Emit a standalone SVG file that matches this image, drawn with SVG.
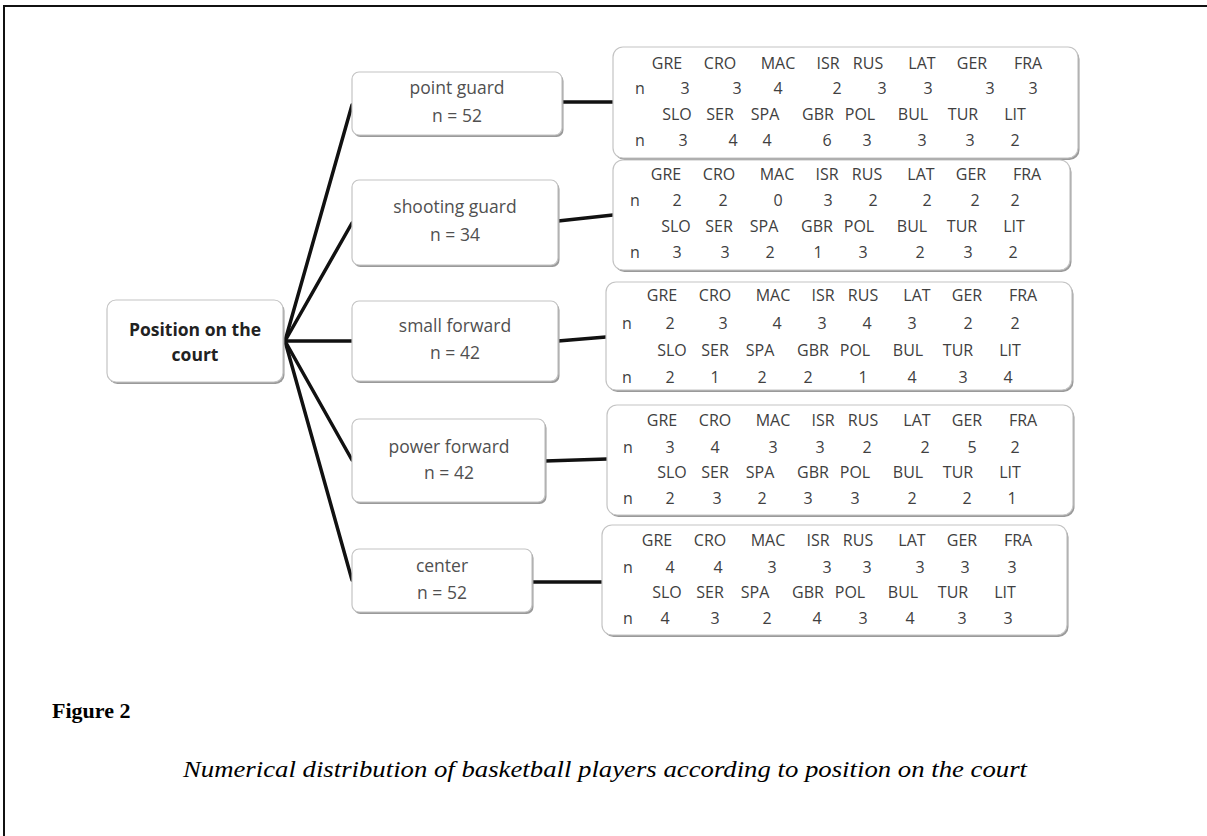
<svg xmlns="http://www.w3.org/2000/svg" width="1207" height="836" viewBox="0 0 1207 836">
<style>
.frame{fill:none;stroke:#111;stroke-width:2}
.shadow{fill:#9a9a9a}
.box{fill:#fff;stroke:#c4c4c4;stroke-width:1.2}
.conn{fill:none;stroke:#111;stroke-width:3.5;stroke-linecap:round}
.lbl{font-family:"Open Sans","Noto Sans",sans-serif;font-size:17.5px;fill:#505050;text-anchor:middle}
.root{font-family:"Open Sans","Noto Sans",sans-serif;font-size:17.5px;font-weight:bold;fill:#222;text-anchor:middle}
.t{font-family:"Open Sans","Noto Sans",sans-serif;font-size:16px;fill:#404040;text-anchor:middle}
.fig{font-family:"Liberation Serif",serif;font-size:22px;font-weight:bold;fill:#000}
.cap{font-family:"Liberation Serif",serif;font-size:23px;font-style:italic;fill:#000;text-anchor:middle}
</style>
<path class="frame" d="M1207 6 H4 V836"/>

<g id="connectors">
<path class="conn" d="M285 341 L352 105"/>
<path class="conn" d="M285 341 L352 223"/>
<path class="conn" d="M285 341 L352 341"/>
<path class="conn" d="M285 341 L352 460"/>
<path class="conn" d="M285 341 L352 580"/>
<path class="conn" d="M562 102 L613 102"/>
<path class="conn" d="M558 221 L613 215"/>
<path class="conn" d="M558 341 L606 337"/>
<path class="conn" d="M545 461 L607 459"/>
<path class="conn" d="M532 582 L602 582"/>
</g>

<g id="root">
<rect class="shadow" x="108.5" y="302" width="176" height="82" rx="9"/>
<rect class="box" x="107" y="300" width="176" height="82" rx="9"/>
<text class="root" x="195" y="336">Position on the</text>
<text class="root" x="195" y="361">court</text>
</g>

<g id="pos-point-guard">
<rect class="shadow" x="353.5" y="74" width="210" height="63" rx="7"/>
<rect class="box" x="352" y="72" width="210" height="63" rx="7"/>
<text class="lbl" x="457" y="94">point guard</text>
<text class="lbl" x="457" y="122">n = 52</text>
</g>

<g id="pos-shooting-guard">
<rect class="shadow" x="353.5" y="182" width="206" height="85" rx="7"/>
<rect class="box" x="352" y="180" width="206" height="85" rx="7"/>
<text class="lbl" x="455" y="213">shooting guard</text>
<text class="lbl" x="455" y="241">n = 34</text>
</g>

<g id="pos-small-forward">
<rect class="shadow" x="353.5" y="303" width="206" height="80" rx="7"/>
<rect class="box" x="352" y="301" width="206" height="80" rx="7"/>
<text class="lbl" x="455" y="332">small forward</text>
<text class="lbl" x="455" y="359">n = 42</text>
</g>

<g id="pos-power-forward">
<rect class="shadow" x="353.5" y="421" width="193" height="83" rx="7"/>
<rect class="box" x="352" y="419" width="193" height="83" rx="7"/>
<text class="lbl" x="449" y="453">power forward</text>
<text class="lbl" x="449" y="479">n = 42</text>
</g>

<g id="pos-center">
<rect class="shadow" x="353.5" y="551" width="180" height="63" rx="7"/>
<rect class="box" x="352" y="549" width="180" height="63" rx="7"/>
<text class="lbl" x="442" y="572">center</text>
<text class="lbl" x="442" y="599">n = 52</text>
</g>

<g id="table-point-guard">
<rect class="shadow" x="614.5" y="49" width="465" height="111" rx="10"/>
<rect class="box" x="613" y="47" width="465" height="111" rx="10"/>
<text class="t" y="69"><tspan x="667">GRE</tspan><tspan x="720">CRO</tspan><tspan x="778">MAC</tspan><tspan x="828">ISR</tspan><tspan x="868">RUS</tspan><tspan x="922">LAT</tspan><tspan x="972">GER</tspan><tspan x="1028">FRA</tspan></text>
<text class="t" y="94"><tspan x="640">n</tspan><tspan x="685">3</tspan><tspan x="737">3</tspan><tspan x="778">4</tspan><tspan x="837">2</tspan><tspan x="882">3</tspan><tspan x="928">3</tspan><tspan x="990">3</tspan><tspan x="1033">3</tspan></text>
<text class="t" y="120"><tspan x="677">SLO</tspan><tspan x="720">SER</tspan><tspan x="765">SPA</tspan><tspan x="818">GBR</tspan><tspan x="860">POL</tspan><tspan x="913">BUL</tspan><tspan x="963">TUR</tspan><tspan x="1015">LIT</tspan></text>
<text class="t" y="146"><tspan x="640">n</tspan><tspan x="683">3</tspan><tspan x="733">4</tspan><tspan x="767">4</tspan><tspan x="827">6</tspan><tspan x="867">3</tspan><tspan x="922">3</tspan><tspan x="970">3</tspan><tspan x="1015">2</tspan></text>
</g>

<g id="table-shooting-guard">
<rect class="shadow" x="614.5" y="162" width="457" height="110" rx="10"/>
<rect class="box" x="613" y="160" width="457" height="110" rx="10"/>
<text class="t" y="180"><tspan x="666">GRE</tspan><tspan x="719">CRO</tspan><tspan x="777">MAC</tspan><tspan x="827">ISR</tspan><tspan x="867">RUS</tspan><tspan x="921">LAT</tspan><tspan x="971">GER</tspan><tspan x="1027">FRA</tspan></text>
<text class="t" y="206"><tspan x="635">n</tspan><tspan x="677">2</tspan><tspan x="723">2</tspan><tspan x="778">0</tspan><tspan x="828">3</tspan><tspan x="873">2</tspan><tspan x="927">2</tspan><tspan x="975">2</tspan><tspan x="1015">2</tspan></text>
<text class="t" y="232"><tspan x="676">SLO</tspan><tspan x="719">SER</tspan><tspan x="764">SPA</tspan><tspan x="817">GBR</tspan><tspan x="859">POL</tspan><tspan x="912">BUL</tspan><tspan x="962">TUR</tspan><tspan x="1014">LIT</tspan></text>
<text class="t" y="258"><tspan x="635">n</tspan><tspan x="677">3</tspan><tspan x="725">3</tspan><tspan x="770">2</tspan><tspan x="818">1</tspan><tspan x="863">3</tspan><tspan x="920">2</tspan><tspan x="968">3</tspan><tspan x="1013">2</tspan></text>
</g>

<g id="table-small-forward">
<rect class="shadow" x="607.5" y="284" width="466" height="108" rx="10"/>
<rect class="box" x="606" y="282" width="466" height="108" rx="10"/>
<text class="t" y="301"><tspan x="662">GRE</tspan><tspan x="715">CRO</tspan><tspan x="773">MAC</tspan><tspan x="823">ISR</tspan><tspan x="863">RUS</tspan><tspan x="917">LAT</tspan><tspan x="967">GER</tspan><tspan x="1023">FRA</tspan></text>
<text class="t" y="329"><tspan x="627">n</tspan><tspan x="670">2</tspan><tspan x="723">3</tspan><tspan x="777">4</tspan><tspan x="822">3</tspan><tspan x="867">4</tspan><tspan x="912">3</tspan><tspan x="968">2</tspan><tspan x="1015">2</tspan></text>
<text class="t" y="356"><tspan x="672">SLO</tspan><tspan x="715">SER</tspan><tspan x="760">SPA</tspan><tspan x="813">GBR</tspan><tspan x="855">POL</tspan><tspan x="908">BUL</tspan><tspan x="958">TUR</tspan><tspan x="1010">LIT</tspan></text>
<text class="t" y="383"><tspan x="627">n</tspan><tspan x="670">2</tspan><tspan x="715">1</tspan><tspan x="762">2</tspan><tspan x="808">2</tspan><tspan x="863">1</tspan><tspan x="912">4</tspan><tspan x="963">3</tspan><tspan x="1008">4</tspan></text>
</g>

<g id="table-power-forward">
<rect class="shadow" x="608.5" y="407" width="466" height="110" rx="10"/>
<rect class="box" x="607" y="405" width="466" height="110" rx="10"/>
<text class="t" y="426"><tspan x="662">GRE</tspan><tspan x="715">CRO</tspan><tspan x="773">MAC</tspan><tspan x="823">ISR</tspan><tspan x="863">RUS</tspan><tspan x="917">LAT</tspan><tspan x="967">GER</tspan><tspan x="1023">FRA</tspan></text>
<text class="t" y="453"><tspan x="628">n</tspan><tspan x="670">3</tspan><tspan x="715">4</tspan><tspan x="773">3</tspan><tspan x="820">3</tspan><tspan x="867">2</tspan><tspan x="925">2</tspan><tspan x="972">5</tspan><tspan x="1015">2</tspan></text>
<text class="t" y="478"><tspan x="672">SLO</tspan><tspan x="715">SER</tspan><tspan x="760">SPA</tspan><tspan x="813">GBR</tspan><tspan x="855">POL</tspan><tspan x="908">BUL</tspan><tspan x="958">TUR</tspan><tspan x="1010">LIT</tspan></text>
<text class="t" y="504"><tspan x="628">n</tspan><tspan x="670">2</tspan><tspan x="717">3</tspan><tspan x="762">2</tspan><tspan x="808">3</tspan><tspan x="855">3</tspan><tspan x="912">2</tspan><tspan x="967">2</tspan><tspan x="1012">1</tspan></text>
</g>

<g id="table-center">
<rect class="shadow" x="603.5" y="527" width="465" height="110" rx="10"/>
<rect class="box" x="602" y="525" width="465" height="110" rx="10"/>
<text class="t" y="546"><tspan x="657">GRE</tspan><tspan x="710">CRO</tspan><tspan x="768">MAC</tspan><tspan x="818">ISR</tspan><tspan x="858">RUS</tspan><tspan x="912">LAT</tspan><tspan x="962">GER</tspan><tspan x="1018">FRA</tspan></text>
<text class="t" y="573"><tspan x="628">n</tspan><tspan x="670">4</tspan><tspan x="718">4</tspan><tspan x="772">3</tspan><tspan x="827">3</tspan><tspan x="867">3</tspan><tspan x="920">3</tspan><tspan x="965">3</tspan><tspan x="1012">3</tspan></text>
<text class="t" y="598"><tspan x="667">SLO</tspan><tspan x="710">SER</tspan><tspan x="755">SPA</tspan><tspan x="808">GBR</tspan><tspan x="850">POL</tspan><tspan x="903">BUL</tspan><tspan x="953">TUR</tspan><tspan x="1005">LIT</tspan></text>
<text class="t" y="624"><tspan x="628">n</tspan><tspan x="665">4</tspan><tspan x="715">3</tspan><tspan x="767">2</tspan><tspan x="817">4</tspan><tspan x="863">3</tspan><tspan x="910">4</tspan><tspan x="962">3</tspan><tspan x="1008">3</tspan></text>
</g>

<text class="fig" x="52" y="718">Figure 2</text>
<text class="cap" x="605" y="777" textLength="844" lengthAdjust="spacingAndGlyphs">Numerical distribution of basketball players according to position on the court</text>
</svg>
